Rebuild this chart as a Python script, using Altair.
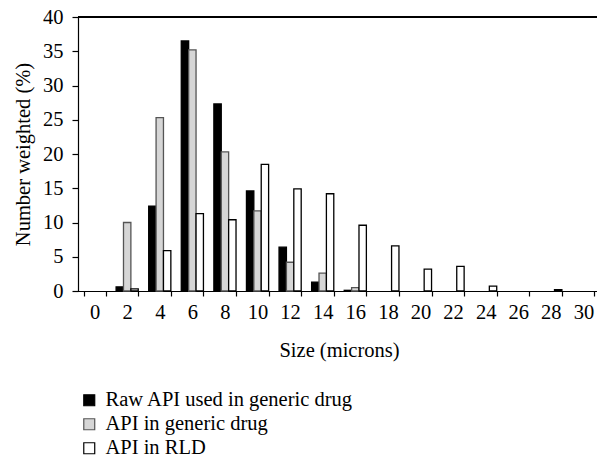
import altair as alt
import pandas as pd

sizes = ["0", "2", "4", "6", "8", "10", "12", "14", "16", "18", "20", "22", "24", "26", "28", "30"]
series = ["Raw API used in generic drug", "API in generic drug", "API in RLD"]
raw_api = [0, 0.6, 12.4, 36.5, 27.3, 14.6, 6.4, 1.3, 0.1, 0, 0, 0, 0, 0, 0, 0]
generic_api = [0, 10.0, 25.3, 35.2, 20.3, 11.7, 4.2, 2.6, 0.5, 0, 0, 0, 0, 0, 0, 0]
rld_api = [0, 0.3, 5.9, 11.3, 10.4, 18.5, 14.9, 14.2, 9.6, 6.6, 3.2, 3.6, 0.7, 0, 0.2, 0]

rows = []
for name, vals in zip(series, [raw_api, generic_api, rld_api]):
    for s, v in zip(sizes, vals):
        if v > 0:
            rows.append({"size": s, "series": name, "value": v})
df = pd.DataFrame(rows)

FONT = "Liberation Serif"
FS = 20.5

bars = alt.Chart(df).mark_bar(strokeWidth=1.3).encode(
    x=alt.X("size:N", sort=sizes,
            scale=alt.Scale(domain=sizes, paddingInner=0.32, range=[-1, 523]),
            axis=alt.Axis(title="Size (microns)", labelAngle=0, tickBand="extent",
                          tickSize=5, labelPadding=6, titlePadding=18,
                          domainColor="black", tickColor="black", domainWidth=1.2, tickWidth=1.2)),
    xOffset=alt.XOffset("series:N", sort=series, scale=alt.Scale(domain=series)),
    y=alt.Y("value:Q", scale=alt.Scale(domain=[0, 40]),
            axis=alt.Axis(title="Number weighted (%)", values=[0, 5, 10, 15, 20, 25, 30, 35, 40],
                          tickSize=6, labelPadding=9, titlePadding=9, grid=False,
                          domainColor="black", tickColor="black", domainWidth=1.2, tickWidth=1.2)),
    fill=alt.Fill("series:N", sort=series,
                  scale=alt.Scale(domain=series, range=["#000000", "#d6d6d6", "#ffffff"]),
                  legend=alt.Legend(title=None, orient="none", legendX=1, legendY=373,
                                    direction="vertical", symbolType="square", symbolSize=120,
                                    symbolStrokeColor="black", symbolStrokeWidth=1.2,
                                    labelFont=FONT, labelFontSize=FS, labelColor="black",
                                    labelLimit=0, labelOffset=6, rowPadding=3, padding=0)),
    stroke=alt.Stroke("series:N", sort=series,
                      scale=alt.Scale(domain=series, range=["#000000", "#555555", "#000000"]),
                      legend=None),
)

top_line = alt.Chart(df).mark_rule(color="black", strokeWidth=1.2).encode(
    y=alt.value(0), x=alt.value(0), x2=alt.value(530)
)

chart = alt.layer(bars, top_line).properties(
    width=519, height=274,
    autosize=alt.AutoSizeParams(type="none"),
    padding={"left": 78, "top": 17, "right": 0, "bottom": 167},
).configure_view(
    stroke=None
).configure_axis(
    labelFont=FONT, titleFont=FONT, labelFontSize=FS, titleFontSize=FS,
    labelColor="black", titleColor="black", titleFontWeight="normal"
)

chart.save("out.html", embed_options={"renderer": "svg", "actions": False})
